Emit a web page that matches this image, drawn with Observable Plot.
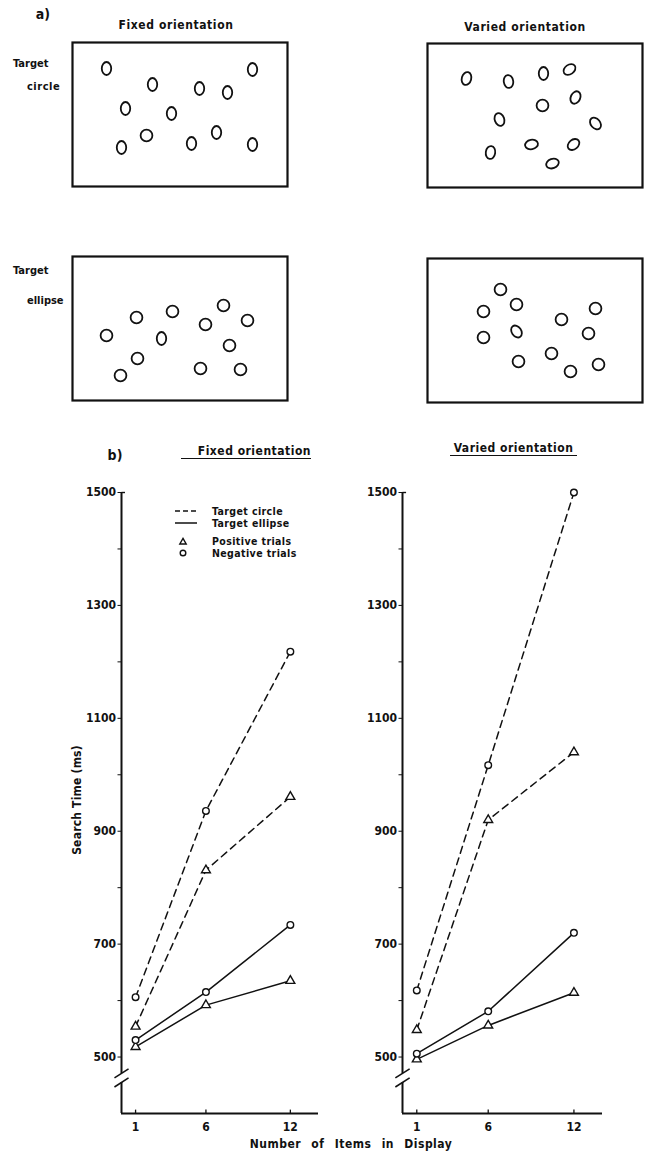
<!DOCTYPE html>
<html>
<head>
<meta charset="utf-8">
<script src="https://cdn.jsdelivr.net/npm/d3@7"></script>
<script src="https://cdn.jsdelivr.net/npm/@observablehq/plot@0.6"></script>
<style>
  body { margin: 0; background: #fff; }
  #fig {
    position: relative; width: 649px; height: 1155px; overflow: hidden; background: #fff;
    font-family: "DejaVu Sans Condensed", "Liberation Sans Narrow", "DejaVu Sans", sans-serif;
    font-stretch: condensed; font-weight: bold; color: #111;
  }
  #fig > * { position: absolute; }
  .lbl { white-space: pre; line-height: 1; }
  .uline { border-bottom: 1.6px solid #111; line-height: 1; white-space: pre; }
</style>
</head>
<body>
<div id="fig"></div>
<script>
// ---------- a) example displays: item centre (px inside a 215×144 display), shape, tilt from vertical (deg)
const fixedCircleItems = [
  {x: 34, y: 26, shape: "ellipse", angle: 0}, {x: 80, y: 42, shape: "ellipse", angle: 0},
  {x: 127, y: 46, shape: "ellipse", angle: 0}, {x: 155, y: 50, shape: "ellipse", angle: 0},
  {x: 180, y: 27, shape: "ellipse", angle: 0}, {x: 53, y: 66, shape: "ellipse", angle: 0},
  {x: 99, y: 71, shape: "ellipse", angle: 0}, {x: 74, y: 93, shape: "circle", angle: 0},
  {x: 144, y: 90, shape: "ellipse", angle: 0}, {x: 49, y: 105, shape: "ellipse", angle: 0},
  {x: 119, y: 101, shape: "ellipse", angle: 0}, {x: 180, y: 102, shape: "ellipse", angle: 0}
];
const variedCircleItems = [
  {x: 39, y: 35, shape: "ellipse", angle: 15}, {x: 81, y: 38, shape: "ellipse", angle: -8},
  {x: 116, y: 30, shape: "ellipse", angle: 0}, {x: 142, y: 26, shape: "ellipse", angle: 55},
  {x: 115, y: 62, shape: "circle", angle: 0}, {x: 148, y: 54, shape: "ellipse", angle: 25},
  {x: 72, y: 76, shape: "ellipse", angle: -20}, {x: 168, y: 80, shape: "ellipse", angle: -40},
  {x: 63, y: 109, shape: "ellipse", angle: 8}, {x: 104, y: 101, shape: "ellipse", angle: 80},
  {x: 146, y: 101, shape: "ellipse", angle: 50}, {x: 125, y: 120, shape: "ellipse", angle: 70}
];
const fixedEllipseItems = [
  {x: 34, y: 79, shape: "circle", angle: 0}, {x: 64, y: 61, shape: "circle", angle: 0},
  {x: 100, y: 55, shape: "circle", angle: 0}, {x: 65, y: 102, shape: "circle", angle: 0},
  {x: 48, y: 119, shape: "circle", angle: 0}, {x: 89, y: 82, shape: "ellipse", angle: 0},
  {x: 133, y: 68, shape: "circle", angle: 0}, {x: 151, y: 49, shape: "circle", angle: 0},
  {x: 175, y: 64, shape: "circle", angle: 0}, {x: 157, y: 89, shape: "circle", angle: 0},
  {x: 128, y: 112, shape: "circle", angle: 0}, {x: 168, y: 113, shape: "circle", angle: 0}
];
const variedEllipseItems = [
  {x: 73, y: 31, shape: "circle", angle: 0}, {x: 89, y: 46, shape: "circle", angle: 0},
  {x: 56, y: 53, shape: "circle", angle: 0}, {x: 56, y: 79, shape: "circle", angle: 0},
  {x: 89, y: 73, shape: "ellipse", angle: -35}, {x: 91, y: 103, shape: "circle", angle: 0},
  {x: 134, y: 61, shape: "circle", angle: 0}, {x: 168, y: 50, shape: "circle", angle: 0},
  {x: 161, y: 75, shape: "circle", angle: 0}, {x: 124, y: 95, shape: "circle", angle: 0},
  {x: 143, y: 113, shape: "circle", angle: 0}, {x: 171, y: 106, shape: "circle", angle: 0}
];

// ---------- b) mean search time (ms) by number of items in the display
const setSizes = [1, 6, 12];
const fixedCirclePositive = [554, 831, 961];
const fixedCircleNegative = [606, 936, 1218];
const fixedEllipsePositive = [518, 592, 635];
const fixedEllipseNegative = [530, 615, 734];
const variedCirclePositive = [548, 920, 1040];
const variedCircleNegative = [618, 1017, 1500];
const variedEllipsePositive = [496, 556, 614];
const variedEllipseNegative = [506, 581, 720];

const yTicks = [500, 600, 700, 800, 900, 1000, 1100, 1200, 1300, 1400, 1500];
const yTickLabels = [500, 700, 900, 1100, 1300, 1500];
const xTicks = [1, 6, 12];
const axisBreak = [455, 471];

const FONT = '"DejaVu Sans Condensed", "Liberation Sans Narrow", "DejaVu Sans", sans-serif';
const fig = document.getElementById("fig");

function place(el, left, top) {
  el.style.left = left + "px";
  el.style.top = top + "px";
  fig.appendChild(el);
  return el;
}

function label(text, x, y, {size = 12, anchor = "middle", rotate = 0, spacing = 0, words = 0} = {}) {
  const d = document.createElement("div");
  d.className = "lbl";
  d.textContent = text;
  d.style.fontSize = size + "px";
  d.style.letterSpacing = spacing + "px";
  d.style.wordSpacing = words + "px";
  const tx = anchor === "start" ? "0" : anchor === "end" ? "-100%" : "-50%";
  d.style.transform = `translate(${tx}, -50%)` + (rotate ? ` rotate(${rotate}deg)` : "");
  return place(d, x, y);
}

// ellipse outline made of four cubic arcs, rotated by `angle` degrees (clockwise)
function ellipseSymbol(ax, ay, angle) {
  const k = 0.5523, t = angle * Math.PI / 180, c = Math.cos(t), s = Math.sin(t);
  return {
    draw(ctx, size) {
      const r = Math.sqrt(size / Math.PI), rx = r * ax, ry = r * ay;
      const p = (x, y) => [x * c - y * s, x * s + y * c];
      const pts = [
        [rx, 0], [rx, k * ry], [k * rx, ry], [0, ry], [-k * rx, ry], [-rx, k * ry], [-rx, 0],
        [-rx, -k * ry], [-k * rx, -ry], [0, -ry], [k * rx, -ry], [rx, -k * ry], [rx, 0]
      ].map(([x, y]) => p(x, y));
      ctx.moveTo(...pts[0]);
      for (let i = 1; i < pts.length; i += 3) ctx.bezierCurveTo(...pts[i], ...pts[i + 1], ...pts[i + 2]);
      ctx.closePath();
    }
  };
}

const itemKey = d => d.shape === "circle" ? "circle" : `ellipse ${d.angle}`;

function display(items) {
  const keys = [...new Set(items.map(itemKey))];
  const symbols = keys.map(k => k === "circle" ? "circle" : ellipseSymbol(0.8, 1.1, +k.split(" ")[1]));
  return Plot.plot({
    width: 219, height: 148, margin: 2,
    style: {background: "transparent", overflow: "visible"},
    x: {domain: [0, 215], axis: null},
    y: {domain: [0, 144], reverse: true, axis: null},
    symbol: {domain: keys, range: symbols},
    marks: [
      Plot.frame({stroke: "#111", strokeWidth: 2.2}),
      Plot.dot(items, {x: "x", y: "y", symbol: itemKey, r: 5.9, fill: "white", stroke: "#111", strokeWidth: 1.8})
    ]
  });
}

function rowsFor(circlePos, circleNeg, ellipsePos, ellipseNeg) {
  const rows = [];
  const add = (target, trial, values) =>
    setSizes.forEach((n, i) => rows.push({n, rt: values[i], target, trial}));
  add("circle", "Positive", circlePos);
  add("circle", "Negative", circleNeg);
  add("ellipse", "Positive", ellipsePos);
  add("ellipse", "Negative", ellipseNeg);
  return rows;
}

function searchChart(rows, {width, marginLeft, marginRight}) {
  const series = d => d.target + " " + d.trial;
  return Plot.plot({
    width, height: 685, marginTop: 22, marginBottom: 42, marginLeft, marginRight,
    style: {background: "transparent", overflow: "visible", fontFamily: FONT, fontSize: "12px", fontWeight: "bold", color: "#111"},
    x: {domain: [0, 14], ticks: xTicks, tickSize: 0, tickPadding: 9, label: null},
    y: {domain: [400, 1500], ticks: yTicks, tickFormat: d => yTickLabels.includes(d) ? String(d) : "", tickSize: 3.5, tickPadding: 2, label: null},
    symbol: {domain: ["Positive", "Negative"], range: ["triangle", "circle"]},
    marks: [
      Plot.ruleX([0], {y1: 400, y2: axisBreak[0], stroke: "#111", strokeWidth: 2}),
      Plot.ruleX([0], {y1: axisBreak[1], y2: 1500, stroke: "#111", strokeWidth: 2}),
      Plot.link([1500], {x1: 0, x2: 0.25, y1: d => d, y2: d => d, stroke: "#111", strokeWidth: 1.4}),
      Plot.link(axisBreak, {x1: -0.5, x2: 0.5, y1: d => d - 8, y2: d => d + 8, stroke: "#111", strokeWidth: 1.6}),
      Plot.ruleY([400], {x1: 0, x2: 14, stroke: "#111", strokeWidth: 2}),
      Plot.ruleX(xTicks, {y1: 400, y2: 406, stroke: "#111", strokeWidth: 1.3}),
      Plot.line(rows.filter(d => d.target === "circle"), {x: "n", y: "rt", z: series, stroke: "#111", strokeWidth: 1.5, strokeDasharray: "7,5"}),
      Plot.line(rows.filter(d => d.target === "ellipse"), {x: "n", y: "rt", z: series, stroke: "#111", strokeWidth: 1.5}),
      Plot.dot(rows, {x: "n", y: "rt", symbol: "trial", r: 3.3, fill: "white", stroke: "#111", strokeWidth: 1.4})
    ]
  });
}

// ---------- a)
label("a)", 43, 14, {size: 14});
label("Fixed orientation", 176, 25, {size: 12, spacing: 0.6});
label("Varied orientation", 525, 27, {size: 12, spacing: 0.6});
label("Target", 13, 63, {size: 11, anchor: "start"});
label("circle", 27, 86, {size: 11, anchor: "start", spacing: 0.5});
label("Target", 13, 270, {size: 11, anchor: "start"});
label("ellipse", 27, 300, {size: 11, anchor: "start"});

place(display(fixedCircleItems), 70, 40);
place(display(variedCircleItems), 425, 41);
place(display(fixedEllipseItems), 70, 254);
place(display(variedEllipseItems), 425, 256);

// ---------- b)
place(searchChart(rowsFor(fixedCirclePositive, fixedCircleNegative, fixedEllipsePositive, fixedEllipseNegative),
  {width: 330, marginLeft: 121, marginRight: 12}), 0, 470);
place(searchChart(rowsFor(variedCirclePositive, variedCircleNegative, variedEllipsePositive, variedEllipseNegative),
  {width: 369, marginLeft: 122, marginRight: 47}), 280, 470);

label("b)", 115, 455, {size: 14});

function underlined(text, left, top, width, align) {
  const d = document.createElement("div");
  d.className = "uline";
  d.textContent = text;
  d.style.fontSize = "12px";
  d.style.letterSpacing = "0.5px";
  d.style.width = width + "px";
  d.style.textAlign = align;
  d.style.paddingBottom = "1px";
  return place(d, left, top);
}
underlined("Fixed orientation", 181, 445, 130, "right");
underlined("Varied orientation", 450, 442, 127, "center");

// legend
const ns = "http://www.w3.org/2000/svg";
const key = document.createElementNS(ns, "svg");
key.setAttribute("width", 40);
key.setAttribute("height", 60);
key.innerHTML = `
  <line x1="5" x2="27" y1="11" y2="11" stroke="#111" stroke-width="1.5" stroke-dasharray="5,3"/>
  <line x1="5" x2="27" y1="23" y2="23" stroke="#111" stroke-width="1.5"/>
  <path d="M13,38.4L16.2,44L9.8,44Z" fill="white" stroke="#111" stroke-width="1.4"/>
  <circle cx="13" cy="53" r="2.8" fill="white" stroke="#111" stroke-width="1.4"/>`;
place(key, 170, 500);
label("Target circle", 212, 511, {size: 10.5, anchor: "start", spacing: 0.4});
label("Target ellipse", 212, 523, {size: 10.5, anchor: "start", spacing: 0.4});
label("Positive trials", 212, 541, {size: 10.5, anchor: "start", spacing: 0.4});
label("Negative trials", 212, 553, {size: 10.5, anchor: "start", spacing: 0.4});

label("Search Time (ms)", 77, 800, {size: 12, rotate: -90, spacing: 0.2});
label("Number of Items in Display", 351, 1144, {size: 12, spacing: 0.5, words: 6});
</script>
</body>
</html>
